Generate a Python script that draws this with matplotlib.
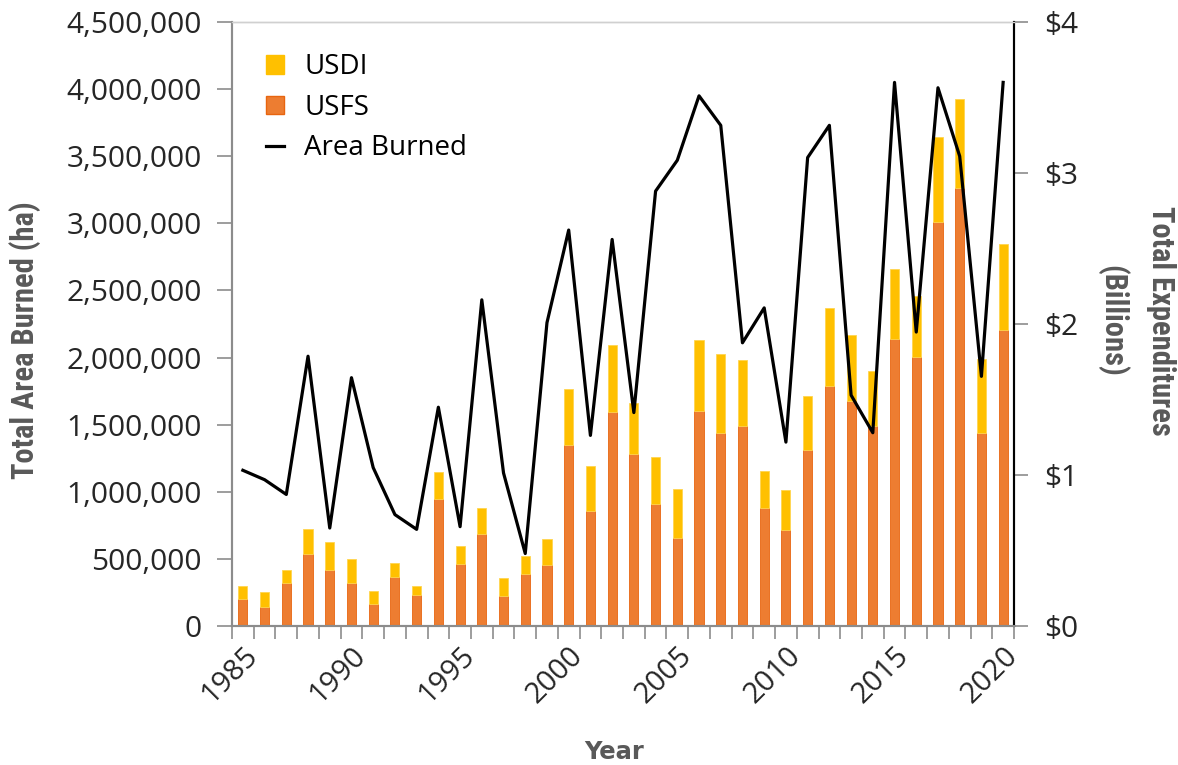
import matplotlib.pyplot as plt
from matplotlib.ticker import FuncFormatter, FixedLocator
from matplotlib.lines import Line2D
from matplotlib.patches import Patch
from matplotlib import font_manager

# data
years = list(range(1985, 2021))
# expenditures, billions of dollars
usfs = [0.179, 0.126, 0.285, 0.479, 0.373, 0.285, 0.148, 0.325, 0.205, 0.843,
        0.411, 0.609, 0.199, 0.344, 0.402, 1.197, 0.762, 1.419, 1.139, 0.808,
        0.583, 1.422, 1.278, 1.325, 0.781, 0.638, 1.168, 1.592, 1.489, 1.325,
        1.901, 1.781, 2.676, 2.902, 1.278, 1.960]
usdi = [0.088, 0.099, 0.088, 0.165, 0.183, 0.157, 0.084, 0.094, 0.062, 0.177,
        0.121, 0.170, 0.117, 0.120, 0.172, 0.370, 0.298, 0.440, 0.336, 0.311,
        0.326, 0.470, 0.521, 0.437, 0.243, 0.260, 0.358, 0.517, 0.441, 0.363,
        0.463, 0.407, 0.562, 0.591, 0.488, 0.569]
# total area burned, ha
area = [1160000, 1090000, 980000, 2010000, 730000, 1850000, 1180000, 830000,
        720000, 1630000, 740000, 2430000, 1140000, 540000, 2260000, 2950000,
        1420000, 2880000, 1590000, 3240000, 3470000, 3950000, 3730000, 2110000,
        2370000, 1370000, 3490000, 3730000, 1720000, 1440000, 4050000, 2190000,
        4010000, 3500000, 1860000, 4050000]

tick_font = "Open Sans"
installed = {f.name for f in font_manager.fontManager.ttflist}
# a narrow bold face for the axis titles, if there is one
label_font = "Roboto"
for cand in ["Roboto Condensed", "Liberation Sans Narrow", "DejaVu Sans Condensed"]:
    if cand in installed:
        label_font = cand
        break
label_gray = "#595959"
spine_gray = "#8c8c8c"
c_usfs = "#ED7D31"
c_usdi = "#FFC000"

fig = plt.figure(figsize=(11.78, 7.65), dpi=100)
ax = fig.add_axes([232 / 1178, 1 - 626 / 765, (1014 - 232) / 1178, (626 - 22) / 765])
ax2 = ax.twinx()

x = list(range(len(years)))

# bars on the right (expenditure) axis
ax2.bar(x, usfs, width=0.42, color=c_usfs, edgecolor="#E8650F", linewidth=0.6, zorder=2)
ax2.bar(x, usdi, width=0.42, bottom=usfs, color=c_usdi, edgecolor="#FFD54F",
        linewidth=0.6, zorder=2)

# line on the left axis, drawn above the bars
ax.plot(x, area, color="black", lw=2.3, zorder=3)
ax.set_zorder(ax2.get_zorder() + 1)
ax.patch.set_visible(False)

ax.set_xlim(-0.5, len(years) - 0.5)
ax.set_ylim(0, 4500000)
ax2.set_ylim(0, 4)

ax.yaxis.set_major_locator(FixedLocator(range(0, 4500001, 500000)))
ax.yaxis.set_major_formatter(FuncFormatter(lambda v, p: f"{int(v):,}"))
ax2.yaxis.set_major_locator(FixedLocator([0, 1, 2, 3, 4]))
ax2.yaxis.set_major_formatter(FuncFormatter(lambda v, p: f"${int(v)}"))

lab_idx = [i for i, y in enumerate(years) if y % 5 == 0]
ax.set_xticks(lab_idx)
ax.set_xticklabels([str(years[i]) for i in lab_idx], rotation=45, ha="right",
                   va="top", rotation_mode="anchor", fontfamily=tick_font, fontsize=21)
ax.set_xticks([i + 0.5 for i in range(-1, len(years))], minor=True)
ax.tick_params(axis="x", which="major", length=0, pad=11)
ax.tick_params(axis="x", which="minor", length=9, color=spine_gray, width=1.2)

for t in ax.get_yticklabels() + ax2.get_yticklabels():
    t.set_fontfamily(tick_font)
    t.set_fontsize(21.5)
    t.set_color("#262626")
for t in ax.get_xticklabels():
    t.set_color("#262626")

ax.tick_params(axis="y", length=11, color=spine_gray, width=1.2, pad=11)
ax2.tick_params(axis="y", length=10, color=spine_gray, width=1.2, pad=12)
ax2.tick_params(axis="x", length=0)

for a in (ax, ax2):
    a.spines["left"].set_color(spine_gray)
    a.spines["bottom"].set_color(spine_gray)
    a.spines["top"].set_color("#d0d0d0")
    a.spines["right"].set_color("black")
    for s in a.spines.values():
        s.set_linewidth(1.5)
    a.spines["top"].set_linewidth(1.0)

# axis titles
lab_size = 22 if label_font != "Roboto" else 18.5
fig.text(25 / 1178, 1 - 340 / 765, "Total Area Burned (ha)", rotation=90,
         ha="center", va="center", fontsize=lab_size, fontweight="bold",
         family=label_font, color=label_gray)
fig.text(614 / 1178, 1 - 752 / 765, "Year", ha="center", va="center",
         fontsize=17.5, fontweight="bold", family="DejaVu Sans", color=label_gray)
fig.text(1136 / 1178, 1 - 321 / 765, "Total Expenditures\n(Billions)", rotation=270,
         ha="center", va="center", fontsize=lab_size, fontweight="bold",
         family=label_font, color=label_gray,
         multialignment="center", linespacing=1.7)

handles = [Patch(facecolor=c_usdi, edgecolor=c_usdi),
           Patch(facecolor=c_usfs, edgecolor="#E8650F"),
           Line2D([0], [0], color="black", lw=2.3)]
ax.legend(handles, ["USDI", "USFS", "Area Burned"], loc="upper left",
          bbox_to_anchor=(255 / 1178, 1 - 42 / 765), bbox_transform=fig.transFigure,
          frameon=False, prop={"family": tick_font, "size": 20},
          handlelength=0.65, handleheight=0.65, handletextpad=0.72, labelspacing=0.45,
          borderaxespad=0)

fig.savefig("out.png", dpi=100)
